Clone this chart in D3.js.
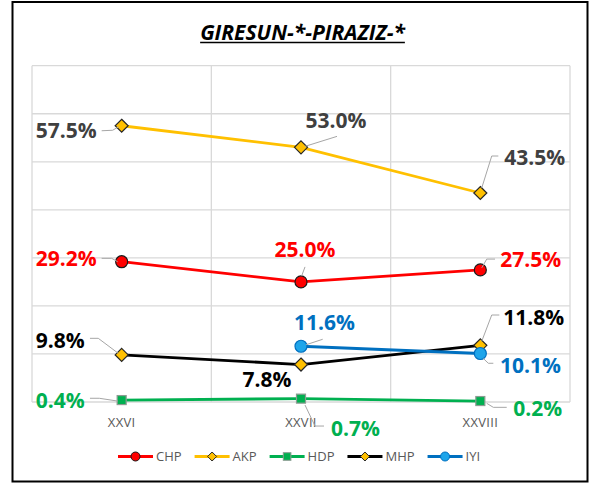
<!DOCTYPE html>
<html>
<head>
<meta charset="utf-8">
<script src="https://cdn.jsdelivr.net/npm/d3@7"></script>
<style>
  body { margin: 0; background: #fff; }
  text { font-family: 'Open Sans', 'Noto Sans', sans-serif; }
</style>
</head>
<body>
<div id="chart"></div>
<script>
const width = 593;
const height = 483;

// data
const categories = ['XXVI', 'XXVII', 'XXVIII'];
const parties = ['CHP', 'AKP', 'HDP', 'MHP', 'IYI'];
const chp = [29.2, 25.0, 27.5];
const akp = [57.5, 53.0, 43.5];
const hdp = [0.4, 0.7, 0.2];
const mhp = [9.8, 7.8, 11.8];
const iyi = [null, 11.6, 10.1];
const yTicks = [0, 10, 20, 30, 40, 50, 60, 70];

const values = { CHP: chp, AKP: akp, HDP: hdp, MHP: mhp, IYI: iyi };

// series styles
const styles = {
  CHP: { line: '#ff0000', shape: 'circle', fill: '#ff0000', stroke: '#1a1a1a', label: '#ff0000' },
  AKP: { line: '#ffc000', shape: 'diamond', fill: '#ffc000', stroke: '#262626', label: '#404040' },
  HDP: { line: '#00b050', shape: 'square', fill: '#00b050', stroke: '#8c9c92', label: '#00b050' },
  MHP: { line: '#000000', shape: 'diamond', fill: '#ffc000', stroke: '#262626', label: '#000000' },
  IYI: { line: '#0070c0', shape: 'circle', fill: '#1ea5ea', stroke: '#0070c0', label: '#0070c0' }
};

// label offsets from each point: [dx, dy, anchor, leader line]
const labelPos = {
  CHP: [[-25, -3, 'end', [[-20, -3.4], [-10, -3.4], [-4, 0]]],
        [4, -32, 'middle', [[4, -15], [0.7, -6]]],
        [20, -10, 'start', [[14.7, -10.8], [6.4, -10.8], [1.4, -2]]]],
  AKP: [[-25, 5, 'end', [[-20, 5], [-9, 4.5], [-3, 1]]],
        [35, -27, 'middle', [[36, -11], [4, -1]]],
        [24, -36, 'start', [[18, -37], [11.4, -37], [1.4, -5]]]],
  HDP: [[-37, 0, 'end', [[-31.7, -1.8], [-22.4, -1.8], [-4, 1]]],
        [30, 29.4, 'start', [[4, 6.4], [14, 27.4], [23, 27.4]]],
        [33, 7.8, 'start', [[6.4, 2.3], [13, 6.3], [26.4, 6.3]]]],
  MHP: [[-37, -14, 'end', [[-31.7, -16.6], [-23.4, -16.6], [-3.4, -1.6]]],
        [-9.5, 14.5, 'end', null],
        [23, -28, 'start', [[19, -30.3], [11.4, -30.3], [1.4, -4]]]],
  IYI: [null,
        [-7, -23.3, 'start', [[21.7, -7], [5, -1.5]]],
        [19.7, 12, 'start', [[13, 9.8], [8, 9.8], [3, 5]]]]
};

let svg = d3.select('#chart').append('svg')
  .attr('width', width)
  .attr('height', height);

// outer frame
svg.append('rect')
  .attr('x', 12.5)
  .attr('y', 2)
  .attr('width', 575)
  .attr('height', 479.5)
  .style('fill', '#fff')
  .attr('stroke', '#000')
  .attr('stroke-width', 2);

// title
let title = svg.append('text')
  .text('GIRESUN-*-PIRAZIZ-*')
  .attr('x', 302.5)
  .attr('y', 39.5)
  .attr('text-anchor', 'middle')
  .style('font-size', '21px')
  .style('font-weight', 'bold')
  .style('font-style', 'italic')
  .style('fill', '#000');
let tw = title.node().getComputedTextLength();
svg.append('line')
  .attr('x1', 302.5 - tw / 2)
  .attr('x2', 302.5 + tw / 2)
  .attr('y1', 42.5)
  .attr('y2', 42.5)
  .attr('stroke', '#000')
  .attr('stroke-width', 1.5);

// scales
let x = d3.scaleBand().domain(categories).range([32, 570]).padding(0);
let y = d3.scaleLinear().domain([0, 70]).range([402, 65.7]);

// grid
let grid = svg.append('g');
grid.selectAll('line.h')
  .data(yTicks)
  .enter().append('line')
  .attr('class', 'h')
  .attr('x1', 32)
  .attr('x2', 570)
  .attr('y1', d => y(d))
  .attr('y2', d => y(d))
  .attr('stroke', '#d9d9d9')
  .attr('stroke-width', 1.3);
let bounds = categories.map(c => x(c)).concat([x.range()[1]]);
grid.selectAll('line.v')
  .data(bounds)
  .enter().append('line')
  .attr('class', 'v')
  .attr('x1', d => d)
  .attr('x2', d => d)
  .attr('y1', y(70))
  .attr('y2', y(0))
  .attr('stroke', '#d9d9d9')
  .attr('stroke-width', 1.3);

// x axis labels
let xAxis = svg.append('g')
  .attr('transform', 'translate(0,' + y(0) + ')')
  .call(d3.axisBottom(x).tickSize(0).tickPadding(16));
xAxis.select('.domain').remove();
xAxis.selectAll('text')
  .style('font-size', '13px')
  .style('letter-spacing', '0.3px')
  .style('fill', '#595959')
  .style('font-family', "'Open Sans', sans-serif");

function cx(i) { return x(categories[i]) + x.bandwidth() / 2; }

function marker(sel, shape, s) {
  if (shape === 'circle') {
    return sel.append('circle').attr('r', s);
  }
  if (shape === 'diamond') {
    return sel.append('path').attr('d', 'M0,' + (-s) + 'L' + s + ',0L0,' + s + 'L' + (-s) + ',0Z');
  }
  return sel.append('rect').attr('x', -s).attr('y', -s).attr('width', 2 * s).attr('height', 2 * s);
}

let sizes = { circle: 6, diamond: 6.5, square: 4.5 };

// lines and markers
let line = d3.line()
  .defined(d => d != null)
  .x((d, i) => cx(i))
  .y(d => y(d));

parties.forEach(p => {
  let st = styles[p];
  let g = svg.append('g');
  g.append('path')
    .datum(values[p])
    .attr('d', line)
    .attr('fill', 'none')
    .attr('stroke', st.line)
    .attr('stroke-width', 2.8)
    .attr('stroke-linejoin', 'round');
  values[p].forEach((v, i) => {
    if (v == null) return;
    let m = g.append('g').attr('transform', 'translate(' + cx(i) + ',' + y(v) + ')');
    marker(m, st.shape, sizes[st.shape])
      .style('fill', st.fill)
      .attr('stroke', st.stroke)
      .attr('stroke-width', 1.2);
  });
});

// data labels
let labels = svg.append('g');
parties.forEach(p => {
  values[p].forEach((v, i) => {
    let lp = labelPos[p][i];
    if (v == null || !lp) return;
    let px = cx(i), py = y(v);
    if (lp[3]) {
      labels.append('path')
        .attr('d', d3.line()(lp[3].map(q => [px + q[0], py + q[1]])))
        .attr('fill', 'none')
        .attr('stroke', '#a6a6a6')
        .attr('stroke-width', 1);
    }
    labels.append('text')
      .text(v.toFixed(1) + '%')
      .attr('x', px + lp[0])
      .attr('y', py + lp[1] + 7.5)
      .attr('text-anchor', lp[2])
      .style('font-size', '21px')
      .style('font-weight', 'bold')
      .style('fill', styles[p].label);
  });
});

// legend
let legend = svg.append('g').attr('transform', 'translate(0,456.5)');
let lx = 118;
parties.forEach(p => {
  let st = styles[p];
  let item = legend.append('g').attr('transform', 'translate(' + lx + ',0)');
  item.append('line')
    .attr('x1', 0)
    .attr('x2', 35)
    .attr('stroke', st.line)
    .attr('stroke-width', 2.8);
  let m = item.append('g').attr('transform', 'translate(17.5,0)');
  marker(m, st.shape, st.shape === 'circle' ? 4.5 : (st.shape === 'diamond' ? 4.5 : 3.8))
    .style('fill', st.fill)
    .attr('stroke', st.stroke)
    .attr('stroke-width', 1);
  let t = item.append('text')
    .text(p)
    .attr('x', 38)
    .attr('y', 4.5)
    .style('font-size', '13px')
    .style('fill', '#595959');
  lx += 38 + t.node().getComputedTextLength() + 13;
});
</script>
</body>
</html>
